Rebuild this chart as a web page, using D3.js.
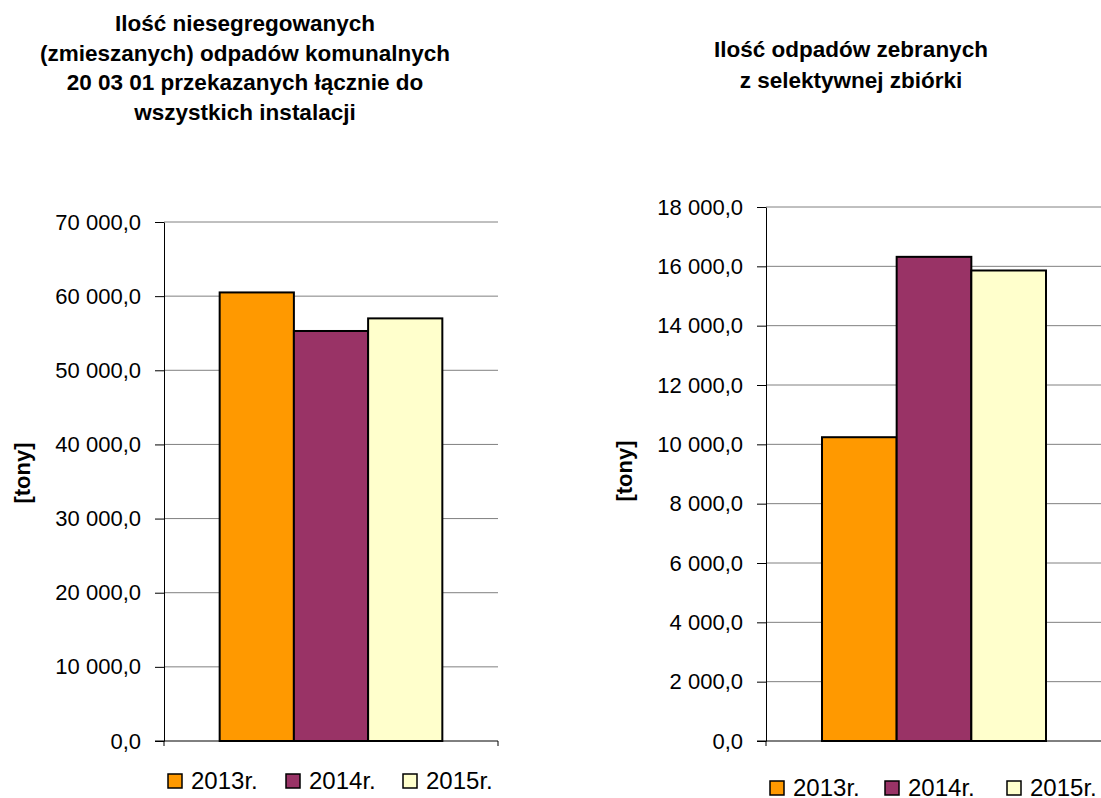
<!DOCTYPE html>
<html>
<head>
<meta charset="utf-8">
<script src="https://cdn.jsdelivr.net/npm/d3@7"></script>
<style>
  body { margin: 0; background: #fff; }
  svg text { font-family: "Liberation Sans", Arial, sans-serif; fill: #000; }
</style>
</head>
<body>
<svg id="chart" width="1101" height="798"></svg>
<script>
var years = ['2013r.', '2014r.', '2015r.'];
var colors = ['#ff9900', '#993366', '#ffffcc'];

var mixedValues = [60500, 55300, 57000];
var mixedTicks = [0, 10000, 20000, 30000, 40000, 50000, 60000, 70000];
var mixedTitle = ['Ilość niesegregowanych', '(zmieszanych) odpadów komunalnych',
                  '20 03 01 przekazanych łącznie do', 'wszystkich instalacji'];

var selectValues = [10240, 16320, 15860];
var selectTicks = [0, 2000, 4000, 6000, 8000, 10000, 12000, 14000, 16000, 18000];
var selectTitle = ['Ilość odpadów zebranych', 'z selektywnej zbiórki'];

var svg = d3.select('#chart');

// "60 000,0" style: space as thousands separator, comma decimal
var fmt = function (v) {
  var s = d3.format(',.1f')(v);
  return s.replace(/,/g, ' ').replace('.', ',');
};

function drawChart(opt) {
  var g = svg.append('g');
  var x = d3.scaleBand().domain([0]).range([opt.left, opt.right]);
  var y = d3.scaleLinear().domain([0, opt.max]).range([opt.bottom, opt.top]);

  // title
  g.append('text')
    .attr('text-anchor', 'middle')
    .style('font-size', '22.5px')
    .style('font-weight', 'bold')
    .selectAll('tspan')
    .data(opt.title)
    .enter().append('tspan')
    .attr('x', opt.titleX)
    .attr('y', function (d, i) { return opt.titleY + i * opt.titleStep; })
    .text(function (d) { return d; });

  // gridlines
  g.append('g')
    .selectAll('line')
    .data(opt.ticks.slice(1))
    .enter().append('line')
    .attr('x1', opt.left).attr('x2', opt.right)
    .attr('y1', function (d) { return y(d); })
    .attr('y2', function (d) { return y(d); })
    .attr('stroke', '#808080')
    .attr('stroke-width', 1);

  // bars, gap width 150% of one bar
  var w = x.bandwidth() / 4.5;
  var bx = d3.scaleBand().domain(d3.range(opt.values.length))
    .range([x(0) + w * 0.75, x(0) + x.bandwidth() - w * 0.75]);
  g.append('g')
    .selectAll('rect')
    .data(opt.values)
    .enter().append('rect')
    .attr('x', function (d, i) { return bx(i); })
    .attr('width', bx.bandwidth())
    .attr('y', function (d) { return y(d); })
    .attr('height', function (d) { return y(0) - y(d); })
    .attr('fill', function (d, i) { return colors[i]; })
    .attr('stroke', '#000')
    .attr('stroke-width', 2);

  // y axis
  var yAxis = d3.axisLeft(y).tickValues(opt.ticks).tickFormat(fmt)
    .tickSizeInner(9).tickSizeOuter(0).tickPadding(14);
  var ya = g.append('g')
    .attr('transform', 'translate(' + opt.left + ',0)')
    .call(yAxis);
  ya.select('.domain').attr('stroke', '#000');
  ya.selectAll('.tick line').attr('stroke', '#000');
  ya.selectAll('text')
    .style('font-size', '22px')
    .style('font-family', '"Liberation Sans", Arial, sans-serif');

  // x axis
  var xa = g.append('g')
    .attr('transform', 'translate(0,' + opt.bottom + ')')
    .call(d3.axisBottom(x).tickFormat('').tickSize(0));
  xa.select('.domain').attr('stroke', '#000').attr('d',
    'M' + (opt.left - 9) + ',0H' + opt.right + 'V5');
  g.append('line')
    .attr('x1', opt.left).attr('x2', opt.left)
    .attr('y1', opt.bottom).attr('y2', opt.bottom + 5)
    .attr('stroke', '#000');

  // y label
  g.append('text')
    .attr('transform', 'translate(' + opt.labelX + ',' + opt.labelY + ') rotate(-90)')
    .attr('text-anchor', 'middle')
    .attr('dy', '0.35em')
    .style('font-size', '22px')
    .style('font-weight', 'bold')
    .text('[tony]');

  // legend
  var lg = g.append('g').selectAll('g')
    .data(years)
    .enter().append('g')
    .attr('transform', function (d, i) {
      return 'translate(' + opt.legendX[i] + ',' + opt.legendY + ')';
    });
  lg.append('rect')
    .attr('x', 0).attr('y', -6)
    .attr('width', 14).attr('height', 14)
    .attr('fill', function (d, i) { return colors[i]; })
    .attr('stroke', '#000')
    .attr('stroke-width', 1.5);
  lg.append('text')
    .attr('x', 23)
    .attr('dy', '0.36em')
    .style('font-size', '24px')
    .text(function (d) { return d; });
}

drawChart({
  values: mixedValues, ticks: mixedTicks, max: 70000, title: mixedTitle,
  left: 164, right: 498, top: 222, bottom: 741,
  titleX: 245, titleY: 31, titleStep: 29.5, labelX: 22, labelY: 473,
  legendX: [168, 286, 403], legendY: 780
});

drawChart({
  values: selectValues, ticks: selectTicks, max: 18000, title: selectTitle,
  left: 766, right: 1102, top: 207, bottom: 741,
  titleX: 851, titleY: 57, titleStep: 31, labelX: 624, labelY: 471,
  legendX: [770, 885, 1007], legendY: 787
});
</script>
</body>
</html>
